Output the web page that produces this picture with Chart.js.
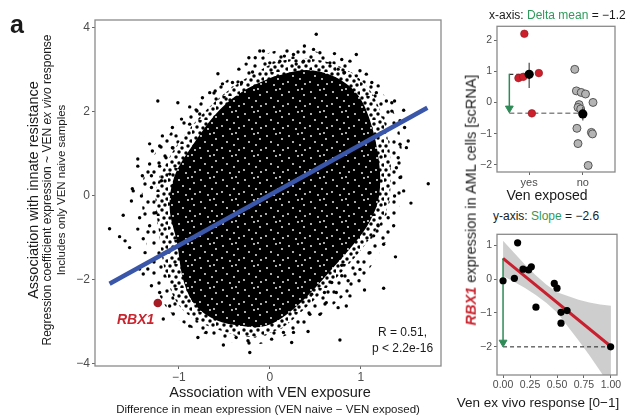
<!DOCTYPE html>
<html><head><meta charset="utf-8">
<script src="https://cdn.jsdelivr.net/npm/chart.js@4"></script>
<style>
html,body{margin:0;padding:0;background:#fff;}
body{width:632px;height:419px;position:relative;overflow:hidden;font-family:"Liberation Sans",Arial,Helvetica,sans-serif;color:#1a1a1a;}
canvas{position:absolute;}
.t{position:absolute;white-space:nowrap;transform:translate(-50%,-50%);line-height:1;}
.l{position:absolute;white-space:nowrap;transform:translateY(-50%);line-height:1;}
.r{position:absolute;white-space:nowrap;transform:translate(-50%,-50%) rotate(-90deg);line-height:1;}
.g{color:#2f9a5b;}
</style></head><body>
<canvas id="cMain" width="450" height="419" style="left:0;top:0"></canvas>
<canvas id="cTop" width="156" height="172" style="left:476px;top:18px"></canvas>
<canvas id="cBot" width="156" height="166" style="left:476px;top:226px"></canvas>

<div class="l" style="left:10px;top:24px;font-size:25px;font-weight:bold;">a</div>
<div class="r" style="left:33px;top:190px;font-size:14.5px;">Association with innate resistance</div>
<div class="r" style="left:47px;top:190px;font-size:12px;">Regression coefficient expression ~ VEN <i>ex vivo</i> response</div>
<div class="r" style="left:62px;top:190px;font-size:11.5px;">Includes only VEN naive samples</div>
<div class="t" style="left:270px;top:392px;font-size:14.5px;">Association with VEN exposure</div>
<div class="t" style="left:268px;top:410px;font-size:11.5px;">Difference in mean expression (VEN naive − VEN exposed)</div>
<div class="l" style="left:117px;top:319px;font-size:14px;font-weight:bold;font-style:italic;color:#c9252f;">RBX1</div>
<div class="l" style="left:378px;top:332px;font-size:12px;">R = 0.51,</div>
<div class="l" style="left:372px;top:348px;font-size:12px;">p &lt; 2.2e-16</div>

<div class="l" style="left:489px;top:15px;font-size:12px;">x-axis: <span class="g">Delta mean</span> = −1.2</div>
<div class="l" style="left:493px;top:216px;font-size:12px;">y-axis: <span class="g">Slope</span> = −2.6</div>
<div class="r" style="left:471px;top:200px;font-size:14.5px;"><b><i style="color:#c9252f">RBX1</i></b> expression in AML cells [scRNA]</div>
<div class="t" style="left:547px;top:195px;font-size:14px;">Ven exposed</div>
<div class="t" style="left:538px;top:403px;font-size:13.5px;">Ven ex vivo response [0−1]</div>

<script>
// ---------- main panel data ----------
const mainXTicks = [-1, 0, 1];
const mainYTicks = [-4, -2, 0, 2, 4];
// outlines of the gene cloud density zones
const cloudHalo = [
 {x:-0.1,y:3.3},{x:-0.35,y:2.95},{x:-0.65,y:2.45},{x:-0.95,y:1.85},{x:-1.2,y:1.2},{x:-1.38,y:0.5},
 {x:-1.4,y:-0.3},{x:-1.35,y:-1.2},{x:-1.28,y:-2.0},{x:-1.12,y:-2.7},{x:-0.9,y:-3.1},{x:-0.55,y:-3.4},
 {x:-0.2,y:-3.55},{x:0.15,y:-3.35},{x:0.45,y:-3.0},{x:0.75,y:-2.5},{x:1.0,y:-2.0},{x:1.22,y:-1.3},
 {x:1.38,y:-0.6},{x:1.45,y:0.2},{x:1.45,y:1.1},{x:1.38,y:1.9},{x:1.22,y:2.5},{x:1.0,y:2.95},
 {x:0.7,y:3.3},{x:0.35,y:3.5},{x:0.05,y:3.45},{x:-0.1,y:3.3}
];
const cloudMid = [
 {x:-0.02,y:3.1},{x:-0.3,y:2.75},{x:-0.6,y:2.25},{x:-0.9,y:1.55},{x:-1.12,y:0.85},{x:-1.25,y:0.1},
 {x:-1.22,y:-0.8},{x:-1.15,y:-1.8},{x:-1.03,y:-2.5},{x:-0.85,y:-2.9},{x:-0.55,y:-3.2},{x:-0.2,y:-3.35},
 {x:0.12,y:-3.15},{x:0.35,y:-2.75},{x:0.62,y:-2.2},{x:0.88,y:-1.6},{x:1.1,y:-1.0},{x:1.28,y:-0.35},
 {x:1.33,y:0.45},{x:1.3,y:1.3},{x:1.2,y:2.1},{x:1.05,y:2.65},{x:0.8,y:3.05},{x:0.5,y:3.25},
 {x:0.2,y:3.25},{x:-0.02,y:3.1}
];
const cloudCore = [
 {x:0.05,y:2.85},{x:-0.25,y:2.55},{x:-0.55,y:2.05},{x:-0.85,y:1.2},{x:-1.05,y:0.45},{x:-1.1,y:-0.3},
 {x:-1.02,y:-1.1},{x:-0.95,y:-2.0},{x:-0.82,y:-2.6},{x:-0.6,y:-2.95},{x:-0.3,y:-3.1},{x:-0.05,y:-3.1},
 {x:0.2,y:-2.8},{x:0.45,y:-2.3},{x:0.7,y:-1.7},{x:0.92,y:-1.15},{x:1.1,y:-0.6},{x:1.2,y:0.0},
 {x:1.2,y:0.8},{x:1.1,y:1.8},{x:0.95,y:2.45},{x:0.7,y:2.85},{x:0.4,y:3.0},{x:0.05,y:2.85}
];
// individual genes around the edge of the cloud
const geneOutliers = [
 {x:-1.23,y:2.26},{x:-1.01,y:2.22},{x:-0.88,y:2.12},{x:-0.81,y:2.05},{x:-0.74,y:2.34},{x:-0.66,y:2.46},
 {x:-0.6,y:2.5},{x:-0.57,y:2.91},{x:-0.34,y:3.02},{x:-0.26,y:3.14},{x:-0.23,y:3.29},{x:-0.16,y:3.29},
 {x:-0.11,y:3.45},{x:-0.19,y:2.95},{x:-1.07,y:1.63},{x:-1.03,y:1.43},{x:-0.97,y:1.83},{x:-1.18,y:1.43},
 {x:-1.21,y:1.19},{x:-1.32,y:1.24},{x:-1.29,y:1.07},{x:-1.45,y:0.88},{x:-1.45,y:0.71},{x:-1.32,y:0.76},
 {x:-1.4,y:0.48},{x:-1.3,y:0.48},{x:-1.21,y:0.71},{x:-1.14,y:0.91},{x:-1.07,y:1.15},{x:-1.1,y:0.52},
 {x:-1.19,y:0.36},{x:-1.3,y:0.2},{x:-1.51,y:0.17},{x:-0.88,y:1.71},{x:-0.77,y:1.95},{x:-0.48,y:2.31},
 {x:-0.41,y:2.7},{x:-0.31,y:2.7},{x:-0.52,y:2.67},{x:-0.59,y:2.31},
 {x:-1.76,y:-0.78},{x:-1.61,y:-0.46},{x:-1.65,y:-0.97},{x:-1.59,y:-1.07},{x:-1.54,y:-1.23},{x:-1.5,y:0.12},
 {x:-1.52,y:-0.12},{x:-1.41,y:0},{x:-1.43,y:-0.52},{x:-1.45,y:-0.79},{x:-1.39,y:-1.02},{x:-1.37,y:-1.35},
 {x:-1.43,y:-1.74},{x:-1.39,y:-1.86},{x:-1.34,y:-1.74},{x:-1.3,y:-2.14},{x:-1.21,y:-2.3},{x:-1.17,y:-2.93},
 {x:-1.06,y:-2.81},{x:-0.88,y:-3.1},{x:-0.79,y:-3.37},{x:-0.51,y:-3.55},{x:-0.37,y:-3.37},{x:-0.24,y:-3.45},
 {x:-0.22,y:-3.73},{x:-0.7,y:-3.25},{x:-1.1,y:-2.62},{x:-1.25,y:-0.4},{x:-1.32,y:-0.71},
 {x:1.55,y:-0.17},{x:1.47,y:0.12},{x:1.37,y:0},{x:1.3,y:-0.52},{x:1.36,y:-0.71},{x:1.25,y:-1.15},
 {x:1.38,y:-1.45},{x:0.99,y:-1.75},{x:0.79,y:-1.65},{x:0.86,y:-2.02},{x:0.98,y:-2.02},{x:1.04,y:-2.24},
 {x:1.25,y:-2.2},{x:0.88,y:-2.38},{x:0.73,y:-2.3},{x:0.84,y:-2.62},{x:0.75,y:-2.66},{x:0.62,y:-2.54},
 {x:0.55,y:-2.82},{x:0.44,y:-2.82},{x:0.42,y:-3.23},{x:0.26,y:-3.25},{x:0.24,y:-3.49},{x:0.15,y:-3.25},
 {x:0.02,y:-3.41},{x:0.77,y:-3.43},{x:0.6,y:-2.3},{x:0.46,y:-2.34},{x:0.68,y:-2.06},{x:0.79,y:-1.9},
 {x:1.14,y:-0.95},{x:1.19,y:-0.71},{x:1.1,y:-1.35},
 {x:0.51,y:3.85},{x:0.38,y:3.57},{x:0.48,y:3.49},{x:0.55,y:3.41},{x:0.71,y:3.39},{x:0.95,y:3.37},
 {x:0.79,y:3.25},{x:0.88,y:3.21},{x:0.99,y:2.98},{x:1.06,y:2.9},{x:1.12,y:2.7},{x:1.19,y:2.62},
 {x:1.17,y:2.46},{x:1.28,y:2.26},{x:1.34,y:2.22},{x:1.37,y:2.26},{x:1.47,y:2.04},{x:1.34,y:2.02},
 {x:1.43,y:1.79},{x:1.48,y:1.63},{x:1.52,y:1.31},{x:1.43,y:1.23},{x:1.5,y:1.15},{x:1.41,y:0.91},
 {x:1.39,y:0.67},{x:1.43,y:0.44},{x:1.74,y:0.29},{x:0.16,y:3.33},{x:0.11,y:3.21},{x:0,y:3.17},
 {x:-0.07,y:3.45},{x:0.26,y:3.37},{x:0.29,y:3.14},{x:0.66,y:3.17},{x:0.75,y:3.02},{x:0.82,y:2.94},
 {x:0.95,y:2.86},{x:0.37,y:3.21}
];
const fitLine = [{x:-1.76,y:-2.09},{x:1.73,y:2.10}];
const rbx1 = [{x:-1.23,y:-2.55}];

// ---------- top right: RBX1 by Ven exposure ----------
const venCategories = ['yes','no'];
const venYTicks = [-2,-1,0,1,2];
const venYes = [{x:0.91,y:2.2},{x:0.8,y:0.78},{x:0.89,y:0.82},{x:1.18,y:0.94},{x:1.05,y:-0.35}];
const venNo = [{x:1.85,y:1.06},{x:1.88,y:0.37},{x:1.97,y:0.32},{x:2.05,y:0.27},{x:2.19,y:0},
 {x:1.93,y:-0.07},{x:1.91,y:-0.16},{x:1.96,y:-0.21},{x:1.89,y:-0.83},{x:2.16,y:-0.96},{x:2.18,y:-1.01},
 {x:1.91,y:-1.32},{x:2.1,y:-2.02}];
const venMeans = [{x:1,y:0.9},{x:2,y:-0.37}];
const venErrYes = [{x:1,y:0.46},{x:1,y:1.27}];
const venErrNo = [{x:2,y:-0.58},{x:2,y:-0.14}];
const venDeltaTop = [{x:0.63,y:0.9},{x:1,y:0.9}];
const venDeltaBottom = [{x:0.63,y:-0.35},{x:2,y:-0.35}];
const venArrow = [{x:0.63,y:0.92},{x:0.63,y:-0.25}];
const venArrowHead = [{x:0.63,y:-0.19}];

// ---------- bottom right: RBX1 vs ex vivo response ----------
const respXTicks = [0,0.25,0.5,0.75,1];
const respYTicks = [-2,-1,0,1];
const respPoints = [{x:0,y:-0.05},{x:0.135,y:1.07},{x:0.105,y:0.02},{x:0.185,y:0.29},{x:0.237,y:0.27},
 {x:0.262,y:0.36},{x:0.305,y:-0.83},{x:0.475,y:-0.13},{x:0.5,y:-0.27},{x:0.537,y:-0.98},{x:0.593,y:-0.93},
 {x:0.537,y:-1.3},{x:0.997,y:-2.0}];
const respFit = [{x:0,y:0.61},{x:1,y:-1.99}];
const respBandX = [0,0.1,0.2,0.3,0.4,0.5,0.6,0.7,0.8,0.9,1.0];
const respBandUpper = [1.13,0.78,0.44,0.12,-0.16,-0.39,-0.5,-0.61,-0.69,-0.75,-0.79];
const respBandLower = [0.09,-0.08,-0.26,-0.46,-0.7,-0.99,-1.4,-1.81,-2.25,-2.71,-3.19];
const respSlopeGuide = [{x:0,y:-2},{x:1,y:-2}];
const respArrow = [{x:0,y:0.61},{x:0,y:-1.85}];
const respArrowHead = [{x:0,y:-1.87}];

// ---------- helpers ----------
Chart.defaults.font.family = '"Liberation Sans", Arial, Helvetica, sans-serif';
const minus = v => String(v).replace('-', '\u2212');
function texture(bg, fg, r, size, dots){
  const c = document.createElement('canvas'); c.width = c.height = size;
  const x = c.getContext('2d'); x.fillStyle = bg; x.fillRect(0,0,size,size); x.fillStyle = fg;
  dots.forEach(([a,b]) => { x.beginPath(); x.arc(a,b,r,0,Math.PI*2); x.fill(); });
  return x.createPattern(c, 'repeat');
}
const haloTex = texture('#fff','#000',1.7,30,[[4,3],[15,6],[25,4],[21,14],[9,13],[28,22],[17,21],[4,22],[11,27],[23,28]]);
const midTex = texture('#fff','#000',1.75,24,[[2,2],[8,1],[14,4],[20,2],[5,7],[11,8],[18,9],[23,7],[1,12],[8,13],[15,14],[21,13],[4,18],[11,19],[18,18],[23,21],[7,22],[14,23]]);
const coreTex = texture('#000','#fff',0.9,22,[[3,4],[12,2],[18,7],[7,10],[14,13],[2,16],[10,19],[19,18],[16,1]]);

const frame = {id:'frame', afterDraw(c){const a=c.chartArea, x=c.ctx; x.save(); x.strokeStyle='#8a8a8a'; x.lineWidth=1.3;
  x.strokeRect(a.left, a.top, a.right-a.left, a.bottom-a.top); x.restore();}};
function axis(min, max, ticks, size, fmt, fitKey, fitVal, fontSize){
  return {type:'linear', min, max,
    afterBuildTicks: s => { s.ticks = ticks.map(v => ({value:v})); },
    afterFit: s => { s[fitKey] = fitVal; },
    grid:{display:true, drawOnChartArea:false, drawTicks:true, tickLength:3, color:'#666', lineWidth:1},
    border:{display:false},
    ticks:{color:'#4d4d4d', font:{size:fontSize}, padding:size, maxRotation:0, autoSkip:false, callback: fmt}};
}
const base = (pad) => ({responsive:false, animation:false, events:[], layout:{padding:pad},
  plugins:{legend:{display:false}, tooltip:{enabled:false}}});
const zone = (data, tex, order) => ({data, showLine:true, fill:'shape', backgroundColor:tex, borderWidth:0, pointRadius:0, tension:0.35, order});

// ---------- main chart ----------
new Chart(document.getElementById('cMain'), {
  type:'scatter',
  data:{datasets:[
    {data:rbx1, pointRadius:4.3, backgroundColor:'#a51c24', borderWidth:0, order:0},
    {data:fitLine, showLine:true, borderColor:'#3a56a8', borderWidth:4.5, pointRadius:0, order:1},
    {data:geneOutliers, pointRadius:1.7, backgroundColor:'#000', borderWidth:0, order:2},
    zone(cloudCore, coreTex, 3),
    zone(cloudMid, midTex, 4),
    zone(cloudHalo, haloTex, 5)
  ]},
  options:Object.assign(base({left:0,right:9,top:20,bottom:0}), {scales:{
    x: axis(-1.92, 1.88, mainXTicks, 1, v => minus(v), 'height', 53, 12),
    y: axis(-4.05, 4.19, mainYTicks, 2, v => minus(v), 'width', 95, 12)
  }}),
  plugins:[frame]
});

// ---------- top right chart ----------
new Chart(document.getElementById('cTop'), {
  type:'scatter',
  data:{datasets:[
    {data:venMeans, pointRadius:4.6, backgroundColor:'#000', borderWidth:0, order:0},
    {data:venErrYes, showLine:true, borderColor:'#555', borderWidth:1.3, pointRadius:0, order:1},
    {data:venErrNo, showLine:true, borderColor:'#555', borderWidth:1.3, pointRadius:0, order:1},
    {data:venYes, pointRadius:3.8, backgroundColor:'#cc1f2b', borderColor:'#8e1a1f', borderWidth:0.6, order:2},
    {data:venNo, pointRadius:4, backgroundColor:'#b4b4b4', borderColor:'#4a4a4a', borderWidth:0.9, order:2},
    {data:venDeltaTop, showLine:true, borderColor:'#333', borderDash:[4,3], borderWidth:1.2, pointRadius:0, order:4},
    {data:venDeltaBottom, showLine:true, borderColor:'#888', borderDash:[5,3], borderWidth:1.5, pointRadius:0, order:4},
    {data:venArrow, showLine:true, borderColor:'#2e8b57', borderWidth:1.5, pointRadius:0, order:3},
    {data:venArrowHead, pointStyle:'triangle', rotation:180, pointRadius:4.5, backgroundColor:'#2e8b57', borderColor:'#2e8b57', borderWidth:1, order:3}
  ]},
  options:Object.assign(base({left:0,right:17,top:7,bottom:0}), {scales:{
    x: axis(0.4, 2.6, [1,2], 1, v => venCategories[v-1], 'height', 18, 11),
    y: axis(-2.23, 2.44, venYTicks, 2, v => minus(v), 'width', 21, 10.5)
  }}),
  plugins:[frame]
});

// ---------- bottom right chart ----------
new Chart(document.getElementById('cBot'), {
  type:'scatter',
  data:{datasets:[
    {data:respPoints, pointRadius:3.6, backgroundColor:'#000', borderWidth:0, order:0},
    {data:respFit, showLine:true, borderColor:'#c8202f', borderWidth:3, pointRadius:0, order:1},
    {data:respArrowHead, pointStyle:'triangle', rotation:180, pointRadius:4.5, backgroundColor:'#2e8b57', borderColor:'#2e8b57', borderWidth:1, order:2},
    {data:respArrow, showLine:true, borderColor:'#2e8b57', borderWidth:1.5, pointRadius:0, order:2},
    {data:respSlopeGuide, showLine:true, borderColor:'#222', borderDash:[4,3], borderWidth:1, pointRadius:0, order:3},
    {data:respBandX.map((x,i)=>({x, y:respBandUpper[i]})), showLine:true, borderWidth:0, pointRadius:0, fill:'+1', backgroundColor:'rgba(190,190,190,0.75)', order:5},
    {data:respBandX.map((x,i)=>({x, y:respBandLower[i]})), showLine:true, borderWidth:0, pointRadius:0, order:6}
  ]},
  options:Object.assign(base({left:0,right:15,top:7,bottom:0}), {scales:{
    x: axis(-0.056, 1.056, respXTicks, 1, v => Number(v).toFixed(2), 'height', 17, 10.5),
    y: axis(-2.83, 1.32, respYTicks, 2, v => minus(v), 'width', 21, 10.5)
  }}),
  plugins:[frame]
});
</script>
</body></html>
